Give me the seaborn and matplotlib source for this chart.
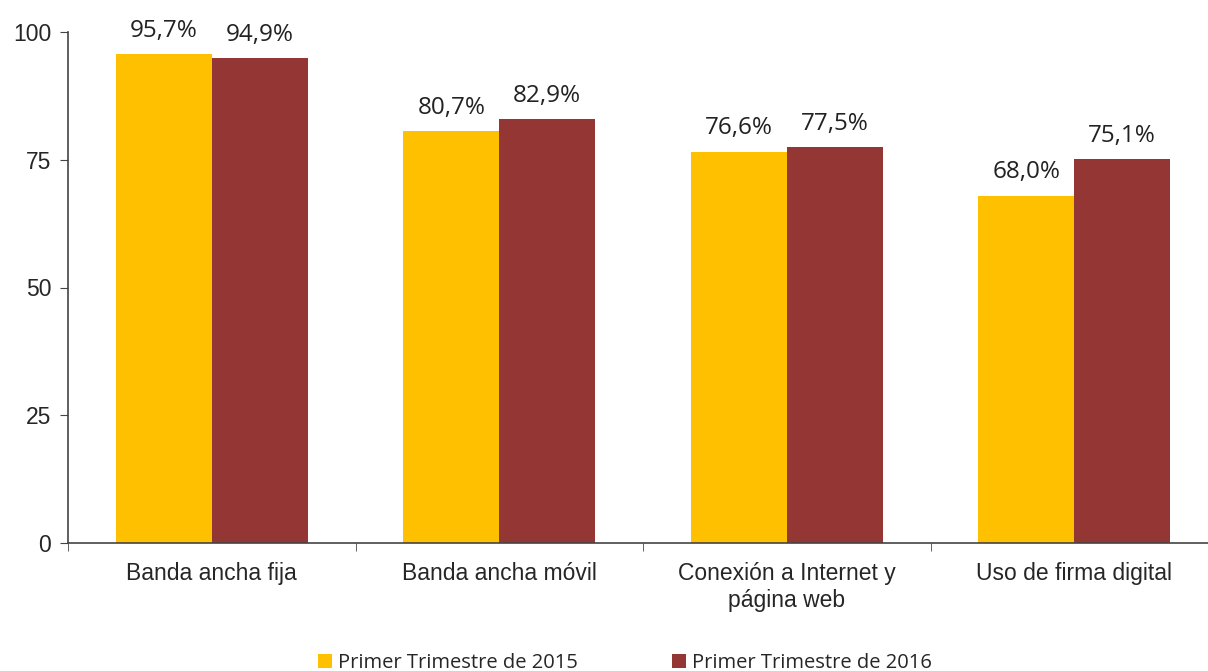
import matplotlib.pyplot as plt
import seaborn as sns
import numpy as np
import pandas as pd
from matplotlib.patches import Patch

categories = [
    'Banda ancha fija',
    'Banda ancha móvil',
    'Conexión a Internet y\npágina web',
    'Uso de firma digital'
]
series_names = ['Primer Trimestre de 2015', 'Primer Trimestre de 2016']
values_2015 = [95.7, 80.7, 76.6, 68.0]
values_2016 = [94.9, 82.9, 77.5, 75.1]
y_ticks = [0, 25, 50, 75, 100]

colors = ['#FFC000', '#943634']

df = pd.DataFrame({
    'categoria': categories * 2,
    'serie': [series_names[0]] * 4 + [series_names[1]] * 4,
    'valor': values_2015 + values_2016
})

sns.set_style('white')
plt.rcParams['font.family'] = ['Liberation Sans', 'DejaVu Sans']

fig = plt.figure(figsize=(12.08, 6.71), dpi=100)
ax = fig.add_axes([68 / 1208, 1 - 543 / 671, 1150 / 1208, 511 / 671])

sns.barplot(
    data=df,
    x='categoria',
    y='valor',
    hue='serie',
    hue_order=series_names,
    order=categories,
    palette=colors,
    width=0.667,
    saturation=1,
    linewidth=0,
    ax=ax,
    legend=False
)

# -------------------------
# Value labels
# -------------------------
for container in ax.containers:
    for bar in container:
        h = bar.get_height()
        ax.annotate(
            f'{h:.1f}%'.replace('.', ','),
            (bar.get_x() + bar.get_width() / 2, h),
            xytext=(0, 8),
            textcoords='offset points',
            ha='center',
            va='bottom',
            fontsize=17.5,
            family=['Open Sans', 'DejaVu Sans'],
            color='#222222'
        )

ax.set_xlim(-0.5, 3.5)
ax.set_ylim(0, 100)
ax.set_yticks(y_ticks)
ax.set_yticklabels([str(t) for t in y_ticks], fontsize=16.5)
ax.set_xlabel('')
ax.set_ylabel('')
ax.tick_params(axis='x', which='major', length=0, labelsize=16.5, pad=14)
ax.set_xticks(np.arange(-0.5, 3.5, 1.0), minor=True)
ax.tick_params(axis='x', which='minor', length=6, direction='out', color='#444444')
ax.tick_params(axis='y', length=6, direction='out', color='#444444', pad=6)
ax.xaxis.set_ticks_position('bottom')
ax.yaxis.set_ticks_position('left')

for side in ['top', 'right']:
    ax.spines[side].set_visible(False)
for side in ['left', 'bottom']:
    ax.spines[side].set_color('#444444')
    ax.spines[side].set_linewidth(1.2)

handles = [Patch(facecolor=c, edgecolor='none') for c in colors]
fig.legend(
    handles,
    series_names,
    loc='center',
    bbox_to_anchor=(625 / 1208, 1 - 663 / 671),
    ncol=2,
    frameon=False,
    handlelength=0.7,
    handleheight=0.7,
    handletextpad=0.3,
    columnspacing=4.7,
    prop={'family': ['Open Sans', 'DejaVu Sans'], 'size': 14.5}
)

fig.savefig('out.png', dpi=100)
